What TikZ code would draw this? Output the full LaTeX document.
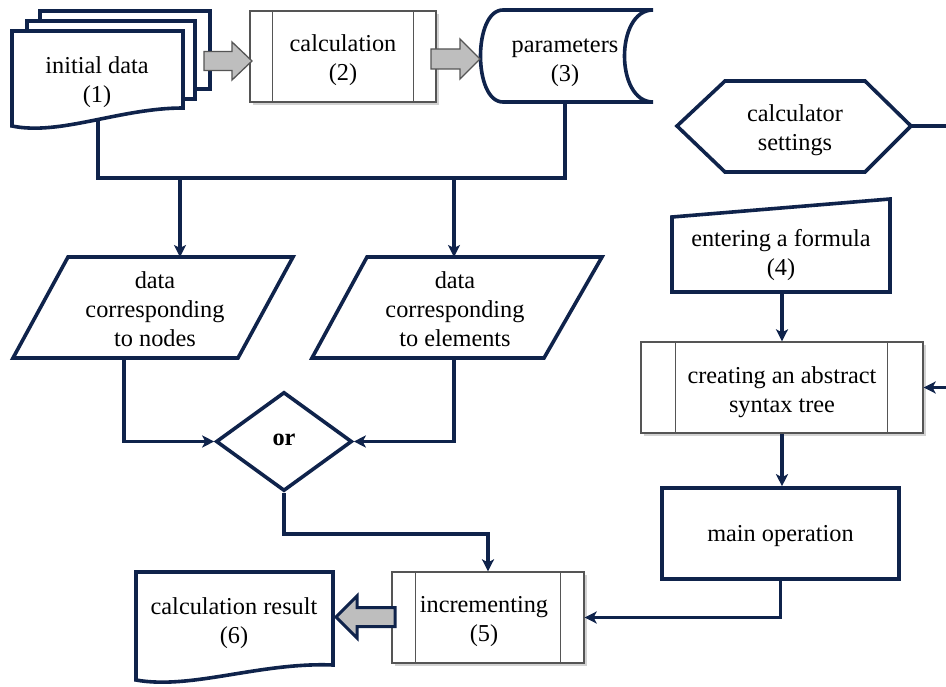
\documentclass[tikz,border=0pt]{standalone}
\usepackage{fontspec}
\setmainfont{Liberation Serif}
\usetikzlibrary{arrows.meta,shapes.geometric,shadows,calc}
\definecolor{navy}{RGB}{15,35,75}
\definecolor{boxgray}{RGB}{85,85,85}
\definecolor{arrowfill}{RGB}{190,190,190}
\begin{document}
\begin{tikzpicture}[x=1pt,y=-1pt,
  txt/.style={font=\fontsize{24.3}{29}\selectfont, align=center, inner sep=0pt},
  outline/.style={draw=navy, line width=3.6pt, fill=white},
  procbox/.style={draw=boxgray, line width=1.3pt, fill=white,
    drop shadow={shadow xshift=3pt, shadow yshift=-3pt, opacity=0.35}},
  sideline/.style={draw=boxgray, line width=1.3pt},
  plainline/.style={draw=navy, line width=3.6pt},
  conn/.style={plainline, -{Stealth[length=12pt,width=12pt,inset=3pt]}},
  garrow/.style={draw=boxgray, line width=1.3pt, fill=arrowfill},
  narrow/.style={draw=navy, line width=3pt, fill=arrowfill},
]
\fill[white] (0,0) rectangle (946,687);
\useasboundingbox (0,0) rectangle (946,687);

% ---- stack of input sheets (1)
\draw[outline] (40,11) rectangle (210,89);
\draw[outline] (27,21) rectangle (195,99);
\draw[outline] (12,31) -- (183,31) -- (183,108)
  .. controls (120,108) and (60,136) .. (12,126) -- cycle;
\node[txt] (idata) at (97,82.5) {initial data\\(1)};
\coordinate (idataout) at (98,121);

% ---- calculation (2)
\node[procbox, minimum width=186pt, minimum height=91pt] (calc) at (343,56.5) {};
\node[txt] (calctext) at ($(calc.center)+(0,4)$) {calculation\\(2)};
\draw[sideline] ([xshift=23pt]calc.north west) -- ([xshift=23pt]calc.south west);
\draw[sideline] ([xshift=-23pt]calc.north east) -- ([xshift=-23pt]calc.south east);

% ---- parameters (3), stored data
\draw[outline] (503,10) -- (653,10) .. controls (615,10) and (615,102) .. (653,102)
  -- (503,102) .. controls (473,102) and (473,10) .. (503,10) -- cycle;
\node[txt] (param) at (565,63) {parameters\\(3)};
\coordinate (paramout) at (565,102);

% ---- block arrows between the top row
\coordinate (sheetsarrow) at (204,61);
\draw[garrow] (sheetsarrow) ++(0,-9.5) -- ++(28,0) -- ++(0,-9.5) -- ++(20,19)
  -- ++(-20,19) -- ++(0,-9.5) -- ++(-28,0) -- cycle;
\coordinate (calcarrow) at (431,59);
\draw[garrow] (calcarrow) ++(0,-10) -- ++(29,0) -- ++(0,-10) -- ++(20,20)
  -- ++(-20,20) -- ++(0,-10) -- ++(-29,0) -- cycle;

% ---- calculator settings
\draw[outline] (677,126) -- (725,81) -- (865,81) -- (911,126) -- (865,172) -- (725,172) -- cycle;
\node[txt] (settings) at (795,130) {calculator\\settings};
\coordinate (settingsout) at (911,126);
\coordinate (settingsturn) at (975,126);

% ---- entering a formula (4), manual input
\draw[outline] (672,217) -- (890,199) -- (890,292) -- (672,292) -- cycle;
\node[txt] (formula) at (781,255) {entering a formula\\(4)};
\coordinate (formulaout) at (782,292);

% ---- abstract syntax tree
\node[procbox, minimum width=282pt, minimum height=91pt] (ast) at (782,387.5) {};
\node[txt] (asttext) at ($(ast.center)+(0,5)$) {creating an abstract\\syntax tree};
\draw[sideline] ([xshift=35pt]ast.north west) -- ([xshift=35pt]ast.south west);
\draw[sideline] ([xshift=-36pt]ast.north east) -- ([xshift=-36pt]ast.south east);

% ---- main operation
\node[outline, minimum width=237pt, minimum height=91pt] (main) at (780.5,533.5) {};
\node[txt] (maintext) at ($(main.center)+(0,3)$) {main operation};

% ---- data parallelograms
\draw[outline] (68,257) -- (293,257) -- (238,358) -- (13,358) -- cycle;
\node[txt] (nodesdata) at (155,309) {data\\corresponding\\to nodes};
\draw[outline] (367,257) -- (602,257) -- (544,358) -- (312,358) -- cycle;
\node[txt] (elemdata) at (455,309) {data\\corresponding\\to elements};
\coordinate (busR) at (565,178);
\coordinate (busL) at (180,178);
\coordinate (busM) at (454,178);
\coordinate (nodesin) at (180,257);
\coordinate (elemin) at (454,257);
\coordinate (nodesout) at (124,358);
\coordinate (elemout) at (454,358);

% ---- decision
\node[diamond, outline, minimum width=136pt, minimum height=99pt, inner sep=0pt] (or) at (284,441.5) {};
\node[font=\fontsize{24.3}{29}\selectfont\bfseries, inner sep=0pt] (ortext) at (284,440) {or};

% ---- incrementing (5)
\node[procbox, minimum width=192pt, minimum height=91pt] (incr) at (488,617.5) {};
\node[txt] (incrtext) at ($(incr.center)+(-4,4.5)$) {incrementing\\(5)};
\draw[sideline] ([xshift=24pt]incr.north west) -- ([xshift=24pt]incr.south west);
\draw[sideline] ([xshift=-24pt]incr.north east) -- ([xshift=-24pt]incr.south east);

% ---- calculation result (6), document
\draw[outline] (136,572) -- (333,572) -- (333,665)
  .. controls (260,662) and (191,690) .. (136,680) -- cycle;
\node[txt] (result) at (234,623.5) {calculation result\\(6)};

\coordinate (incrarrow) at (395,617);
\draw[narrow] (incrarrow) ++(0,-9.5) -- ++(-38,0) -- ++(0,-11.5) -- ++(-21,21)
  -- ++(21,21) -- ++(0,-11.5) -- ++(38,0) -- cycle;

% ---- connectors
\draw[plainline] (idataout) |- (busR) -- (paramout);
\draw[conn] (busL) -- (nodesin);
\draw[conn] (busM) -- (elemin);
\draw[conn] (nodesout) |- (or.west);
\draw[conn] (elemout) |- (or.east);
\draw[conn] (or.south) -- ++(0,41) -| (incr.north);
\draw[conn] (formulaout) -- (ast.north);
\draw[conn] (ast.south) -- (ast.south |- main.north);
\draw[conn] (main.south) |- (incr.east);
\draw[conn] (settingsout) -- (settingsturn) |- (ast.east);
\end{tikzpicture}
\end{document}
